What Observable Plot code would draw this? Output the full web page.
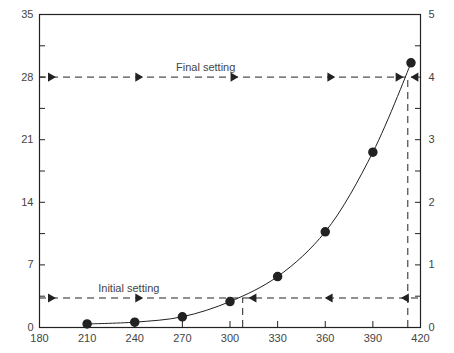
<!DOCTYPE html>
<html><head><meta charset="utf-8">
<script src="https://cdn.jsdelivr.net/npm/d3@7"></script>
<script src="https://cdn.jsdelivr.net/npm/@observablehq/plot@0.6"></script>
<style>body{margin:0;background:#fff}</style>
</head><body><div id="chart"></div>
<script>
const temps = [210, 240, 270, 300, 330, 360, 390, 414];
const values = [0.4, 0.6, 1.2, 2.9, 5.7, 10.7, 19.6, 29.6];
const xTicks = [180, 210, 240, 270, 300, 330, 360, 390, 420];
const yLeftTicks = [0, 7, 14, 21, 28, 35];
const yRightTicks = [0, 1, 2, 3, 4, 5];
const levels = [28, 3.3];
const levelNames = ["Final setting", "Initial setting"];
const labelX = [266, 217];
const crossX = [412, 308];
const finalArrowsRight = [187, 242, 302, 363, 406];
const finalArrowsLeft = [417];
const initialArrowsRight = [187, 242];
const initialArrowsLeft = [315, 363, 411];

const pts = temps.map((t, i) => ({t, v: values[i]}));
const minorLeft = d3.range(0, 35.01, 3.5);
const minorRight = d3.range(0, 5.01, 0.5).map(d => d * 7);
const ink = "#222";
const txt = "#444";
const dash = "7,5";

const arrows = [
  ...finalArrowsRight.map(x => ({x, y: levels[0], r: 90})),
  ...finalArrowsLeft.map(x => ({x, y: levels[0], r: -90})),
  ...initialArrowsRight.map(x => ({x, y: levels[1], r: 90})),
  ...initialArrowsLeft.map(x => ({x, y: levels[1], r: -90}))
];

const chart = Plot.plot({
  width: 454, height: 353,
  marginLeft: 39, marginRight: 34, marginTop: 14, marginBottom: 26,
  style: {fontFamily: "Liberation Sans, Arial, sans-serif", fontSize: "11px", color: txt, background: "#fff"},
  x: {domain: [180, 420]},
  y: {domain: [0, 35]},
  marks: [
    Plot.frame({stroke: ink, strokeWidth: 1.2}),
    Plot.axisX({ticks: xTicks, tickSize: -6, tickPadding: 13, label: null, stroke: ink, fill: txt}),
    Plot.axisY({anchor: "left", ticks: minorLeft, tickSize: -6, tickPadding: 12, label: null, stroke: ink, fill: txt,
      tickFormat: d => yLeftTicks.includes(d) ? String(d) : ""}),
    Plot.axisY({anchor: "right", ticks: minorRight, tickSize: -6, tickPadding: 14, label: null, stroke: ink, fill: txt,
      tickFormat: d => yRightTicks.includes(d / 7) ? String(d / 7) : ""}),
    Plot.ruleY(levels, {x1: 180, x2: 420, stroke: ink, strokeDasharray: dash, strokeWidth: 1}),
    Plot.ruleX(crossX.map((x, i) => ({x, y: levels[i]})), {x: "x", y1: 0, y2: "y", stroke: ink, strokeDasharray: dash, strokeWidth: 1}),
    Plot.line(pts, {x: "t", y: "v", curve: "catmull-rom", stroke: ink, strokeWidth: 1}),
    Plot.dot(pts, {x: "t", y: "v", r: 4, fill: ink, stroke: ink}),
    Plot.dot(arrows, {x: "x", y: "y", symbol: "triangle", rotate: "r", r: 2.4, fill: ink, stroke: ink}),
    Plot.text(levels.map((y, i) => ({x: labelX[i], y, name: levelNames[i]})), {x: "x", y: "y", text: "name", textAnchor: "start", dy: -10, fill: txt, fontSize: 11})
  ]
});
document.getElementById("chart").appendChild(chart);
</script>
</body></html>
